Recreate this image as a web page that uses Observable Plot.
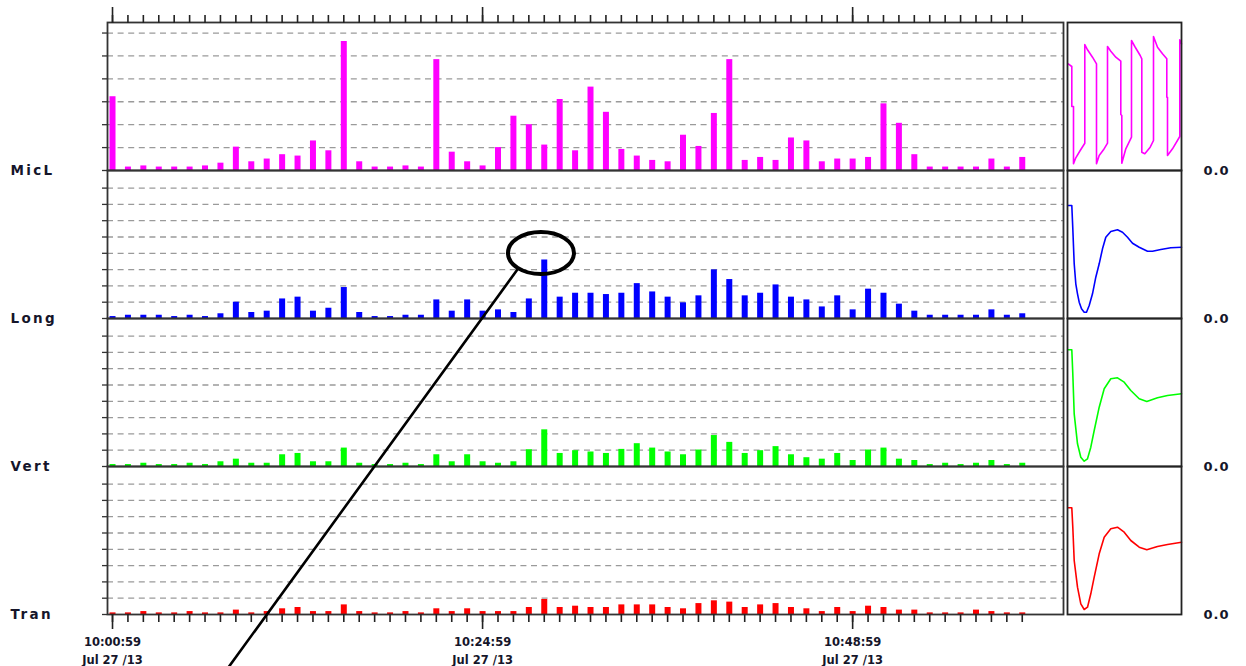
<!DOCTYPE html>
<html>
<head>
<meta charset="utf-8">
<script src="https://cdn.jsdelivr.net/npm/d3@7"></script>
<script src="https://cdn.jsdelivr.net/npm/@observablehq/plot@0.6"></script>
<style>
html, body { margin: 0; padding: 0; background: #fff; }
#chart { position: relative; width: 1246px; height: 666px; overflow: hidden; background: #fff; }
#chart svg { position: absolute; left: 0; overflow: visible !important; background: transparent !important; max-width: none !important; }
</style>
</head>
<body>
<div id="chart"></div>
<script>
// ---------- data ----------
const startMs = Date.UTC(2013, 6, 27, 10, 0, 59);   // 10:00:59 Jul 27 /13
const minuteOffsets = d3.range(60);                  // one bar per minute, 10:00:59 .. 10:59:59
const majorOffsets = [0, 24, 48];                    // labelled ticks
const channelNames = ["MicL", "Long", "Vert", "Tran"];
const channelColors = ["#ff00ff", "#0000ff", "#00ff00", "#ff0000"];

// bar heights, in gridline units
const micL = [3.22,0.15,0.2,0.15,0.15,0.15,0.2,0.32,1.02,0.38, 0.5,0.69,0.63,1.29,0.86,5.63,0.38,0.15,0.15,0.2,
              0.15,4.84,0.8,0.38,0.2,1.0,2.37,2.0,1.11,3.1, 0.86,3.64,2.54,0.92,0.63,0.44,0.38,1.54,1.05,2.49,
              4.84,0.44,0.57,0.44,1.42,1.29,0.38,0.5,0.5,0.57, 2.91,2.06,0.69,0.15,0.15,0.15,0.15,0.5,0.15,0.57];
const long = [0.12,0.2,0.2,0.2,0.12,0.2,0.12,0.29,1.0,0.37, 0.45,1.2,1.31,0.45,0.63,1.9,0.37,0.12,0.12,0.2,
              0.2,1.14,0.45,1.14,0.45,0.53,0.37,1.2,3.59,1.31, 1.55,1.55,1.47,1.55,2.14,1.63,1.31,0.96,1.39,2.98,
              2.39,1.39,1.55,2.06,1.31,1.14,0.71,1.39,0.53,1.8, 1.55,0.88,0.45,0.2,0.2,0.2,0.2,0.53,0.2,0.29];
const vert = [0.12,0.12,0.2,0.12,0.12,0.2,0.12,0.29,0.45,0.2, 0.2,0.72,0.8,0.29,0.29,1.13,0.2,0.12,0.12,0.2,
              0.12,0.72,0.29,0.72,0.29,0.2,0.29,1.03,2.25,0.8, 0.97,0.89,0.8,1.05,1.4,1.13,0.89,0.72,1.01,1.9,
              1.48,0.8,0.97,1.22,0.72,0.54,0.45,0.8,0.37,1.01, 1.13,0.45,0.37,0.12,0.2,0.12,0.2,0.37,0.12,0.2];
const tran = [0.1,0.1,0.18,0.1,0.1,0.18,0.1,0.1,0.27,0.1, 0.18,0.35,0.43,0.18,0.18,0.59,0.18,0.1,0.1,0.18,
              0.1,0.35,0.18,0.35,0.18,0.18,0.18,0.43,0.92,0.43, 0.51,0.43,0.43,0.59,0.59,0.59,0.43,0.35,0.67,0.84,
              0.76,0.43,0.59,0.67,0.43,0.35,0.18,0.43,0.18,0.51, 0.43,0.27,0.27,0.1,0.1,0.1,0.27,0.18,0.1,0.1];
const channelValues = [micL, long, vert, tran];

// gridlines (value units) and top of each panel
const gridMicL = [1, 2, 3, 4, 5, 6];
const gridOther = [1, 2, 3, 4, 5, 6, 7, 8];
const panelTop = [6.46, 9.08, 9.08, 9.08];

// waveform thumbnails: [sample, amplitude]
const micLWave = [[0.7,106.7],[4.3,104],[4.3,64],[6,64],[6,6.7],[8.3,12.7],[12.7,20],[17.3,27.3],[17.3,126],[20,120.7],
  [25,113.3],[29,106.7],[29,6.7],[31.7,15],[36,20.7],[40,27.3],[40,124],[43.3,119.3],[48.3,113.3],[53.3,109.3],
  [53.3,56],[54.3,55],[54.3,7.3],[58.3,21.7],[64,33.3],[64,130],[67.3,124],[72.7,115],[74.3,111.7],[74.3,18.3],
  [77.3,16.7],[82.7,23.3],[86,30],[86,134],[90,123.3],[95,116.7],[99.3,111.7],[99.3,73.3],[100,73.3],[100,15],
  [105,21.7],[112.3,34],[112.3,130.7],[114,126.7]];
const longWave = [[0.7,113],[4.3,113],[5.3,90],[6.7,54.7],[8.3,34.7],[10,24.7],[11.7,16.3],[14,9.7],[16.7,6.3],[19,6.3],
  [21.7,13],[25,24.7],[28.3,41.3],[31.7,54.7],[35,69.7],[38.3,81.3],[43.3,87],[50,88.7],[55,86.3],[60,81.3],
  [65,75.3],[71.7,71.3],[80,67.3],[85,67.3],[93.3,69],[103.3,70.7],[114,71.3]];
const vertWave = [[0.7,116.7],[4.3,116.7],[5.3,92.7],[6.7,52.7],[10,22.7],[13.3,9.3],[16.7,5.3],[20,7.7],[23.3,19.3],
  [26.7,36],[31.7,59.3],[36.7,77.7],[43.3,87.7],[50,88.7],[56.7,84.3],[63.3,76],[71.7,67.7],[79.3,65],[90,68.7],
  [100,71],[114,72.7]];
const tranWave = [[0.7,106.7],[4.3,106.7],[5.3,87.3],[6.7,54],[10,27.3],[13.3,10.7],[16.7,5],[20,7.3],[23.3,20.7],
  [26.7,37.3],[31.7,60.7],[36.7,77.3],[43.3,85.7],[50,87.3],[56.7,82.3],[63.3,74],[71.7,67.3],[79.3,64.7],[90,68],
  [100,70],[114,72.3]];
const waves = [micLWave, longWave, vertWave, tranWave];
const waveDomain = [0, 114];
const waveTop = 148;

// annotation on the Long panel (minutes after start, value units)
const highlight = {minute: 27.82, value: 3.99, rxMin: 2.14, ryVal: 1.29};
const pointer = [{minute: 26.26, value: 3.0}, {minute: 7.52, value: -21.4}];

// ---------- layout ----------
const W = 1246, PANEL_H = 148, TOP = 22, BOTTOM = 52;
const LEFT = 107, RIGHT = 183;
const MINI_LEFT = 1067, MINI_RIGHT = 65;
const FONT = "DejaVu Sans, Verdana, sans-serif";
const MIN = 60000;
const xDomain = [new Date(startMs - 19500), new Date(startMs - 19500 + 62 * MIN)];
const times = minuteOffsets.map(m => new Date(startMs + m * MIN));
const majorTimes = majorOffsets.map(m => new Date(startMs + m * MIN));
const fmtTime = d3.utcFormat("%H:%M:%S");
const fmtDate = d3.utcFormat("%b %d /%y");

const chart = document.getElementById("chart");
function place(svg, top) {
  svg.style.top = top + "px";
  chart.appendChild(svg);
  return svg;
}

channelNames.forEach((name, i) => {
  const mt = i === 0 ? TOP : 0;
  const mb = i === 3 ? BOTTOM : 0;
  const grid = i === 0 ? gridMicL : gridOther;
  const data = times.map((t, k) => ({t, v: channelValues[i][k]}));
  const extra = [];
  if (i === 0) {
    extra.push(Plot.axisX(times, {anchor: "top", label: null, tickSize: 8, tickFormat: () => "", stroke: "#222", strokeWidth: 1.6}));
    extra.push(Plot.axisX(majorTimes, {anchor: "top", label: null, tickSize: 16, tickFormat: () => "", stroke: "#222", strokeWidth: 1.6}));
  }
  if (i === 3) {
    extra.push(Plot.axisX(times, {anchor: "bottom", label: null, tickSize: 8, tickFormat: () => "", stroke: "#222", strokeWidth: 1.6}));
    extra.push(Plot.axisX(majorTimes, {
      anchor: "bottom", label: null, tickSize: 15, tickPadding: 4, stroke: "#222", strokeWidth: 1.6,
      tickFormat: d => fmtTime(d) + "\n" + fmtDate(d),
      fontSize: 11.5, fontWeight: "bold", fontFamily: FONT, fill: "#15152a", lineHeight: 1.57
    }));
  }
  const svg = Plot.plot({
    width: W, height: mt + PANEL_H + mb,
    marginLeft: LEFT, marginRight: RIGHT, marginTop: mt, marginBottom: mb,
    x: {type: "utc", domain: xDomain, axis: null, label: null},
    y: {domain: [0, panelTop[i]], axis: null, label: null},
    style: {background: "transparent", overflow: "visible"},
    marks: [
      Plot.ruleY(grid, {stroke: "#9a9a9a", strokeWidth: 1.3, strokeDasharray: "6,4.6"}),
      Plot.axisY([0, ...grid], {anchor: "left", label: null, tickSize: 5, tickFormat: () => "", stroke: "#333", strokeWidth: 1.3}),
      Plot.ruleX(data, {x: "t", y1: 0, y2: "v", stroke: channelColors[i], strokeWidth: 6}),
      Plot.frame({stroke: "#333", strokeWidth: 1.8}),
      Plot.text([name], {text: d => d, frameAnchor: "bottom-left", dx: -97, textAnchor: "start", lineAnchor: "middle",
        fontSize: 13.5, fontWeight: "bold", fontFamily: FONT, fill: "#15152a"}),
      ...extra
    ]
  });
  d3.select(svg).selectAll("g[aria-label='text'] text").attr("letter-spacing", "2.3px");
  place(svg, i === 0 ? 0 : TOP + PANEL_H * i);
});

// waveform thumbnails
channelNames.forEach((name, i) => {
  const pts = waves[i].map(([t, v]) => ({t, v}));
  const svg = Plot.plot({
    width: W, height: PANEL_H,
    marginLeft: MINI_LEFT, marginRight: MINI_RIGHT, marginTop: 0, marginBottom: 0,
    x: {domain: waveDomain, axis: null, label: null},
    y: {domain: [0, waveTop], axis: null, label: null},
    style: {background: "transparent", overflow: "visible"},
    marks: [
      Plot.line(pts, {x: "t", y: "v", stroke: channelColors[i], strokeWidth: 1.6, curve: "linear"}),
      Plot.frame({stroke: "#222", strokeWidth: 1.8}),
      Plot.axisY([0], {anchor: "right", label: null, tickSize: 0, tickPadding: 22, tickFormat: d3.format(".1f"),
        fontSize: 13, fontWeight: "bold", fontFamily: FONT, fill: "#15152a"})
    ]
  });
  d3.select(svg).selectAll("g[aria-label='y-axis tick label'] text").attr("letter-spacing", "1px");
  place(svg, TOP + PANEL_H * i);
});

// annotation overlay, sharing the Long panel's scales
const ann = [{t: new Date(startMs + highlight.minute * MIN), v: highlight.value}];
const ptr = pointer.map(p => ({t: new Date(startMs + p.minute * MIN), v: p.value}));
const overlay = Plot.plot({
  width: W, height: PANEL_H,
  marginLeft: LEFT, marginRight: RIGHT, marginTop: 0, marginBottom: 0,
  x: {type: "utc", domain: xDomain, axis: null, label: null},
  y: {domain: [0, panelTop[1]], axis: null, label: null},
  style: {background: "transparent", overflow: "visible"},
  marks: [
    Plot.line(ptr, {x: "t", y: "v", stroke: "#000", strokeWidth: 2.6}),
    Plot.dot(ann, {x: "t", y: "v", render(index, scales) {
      const d = ann[0];
      const cx = scales.x(d.t), cy = scales.y(d.v);
      const rx = scales.x(new Date(+d.t + highlight.rxMin * MIN)) - cx;
      const ry = cy - scales.y(d.v + highlight.ryVal);
      const g = d3.create("svg:g");
      g.append("ellipse").attr("cx", cx).attr("cy", cy).attr("rx", rx).attr("ry", ry)
        .attr("fill", "none").attr("stroke", "#000").attr("stroke-width", 4);
      return g.node();
    }})
  ]
});
place(overlay, TOP + PANEL_H);
</script>
</body>
</html>
